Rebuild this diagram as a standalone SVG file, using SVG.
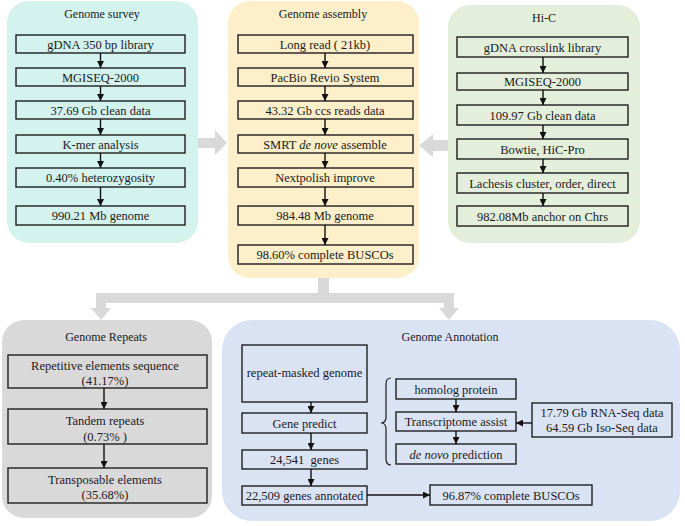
<svg xmlns="http://www.w3.org/2000/svg" width="685" height="526" viewBox="0 0 685 526">
<defs>
<marker id="ah" viewBox="0 0 10 10" refX="10" refY="5" markerWidth="7" markerHeight="7" markerUnits="userSpaceOnUse" orient="auto">
<path d="M0,0 L10,5 L0,10 Z" fill="#111"/>
</marker>
<style>
text{font-family:"Liberation Serif","Times New Roman",serif;font-size:12.5px;fill:#1a1a1a;text-anchor:middle}
.t{font-size:12px}
.b{fill:none;stroke:#1e1e1e;stroke-width:1.4}
.c line,.c path.l{stroke:#111;stroke-width:1.4;fill:none;marker-end:url(#ah)}
.g{fill:#d9d9d9}
.i{font-style:italic}
</style>
</defs>
<rect width="685" height="526" fill="#ffffff"/>

<g id="panel-survey">
<rect x="7" y="1" width="191" height="242" rx="22" fill="#d4f2ee"/>
<text class="t" x="102" y="18">Genome survey</text>
</g>
<g id="panel-assembly">
<rect x="228" y="1" width="191" height="277" rx="22" fill="#fdefc9"/>
<text class="t" x="323" y="18">Genome assembly</text>
</g>
<g id="panel-hic">
<rect x="448" y="5" width="192" height="238" rx="22" fill="#e3efda"/>
<text class="t" x="544" y="22">Hi-C</text>
</g>
<g id="panel-repeats">
<rect x="2" y="320" width="210" height="198" rx="22" fill="#d9d9d9"/>
<text class="t" x="106" y="341">Genome Repeats</text>
</g>
<g id="panel-annotation">
<rect x="222" y="320" width="458" height="201" rx="30" fill="#dae3f3"/>
<text class="t" x="450" y="341">Genome Annotation</text>
</g>

<g id="gray-arrows">
<path class="g" d="M198,138 H215 V130 L227,143 L215,155 V148 H198 Z"/>
<path class="g" d="M448,140 H433 V134 L419,145.5 L433,157 V151 H448 Z"/>
<path class="g" d="M318,278 H329 V293 H454 V308 H459 L449,320 L439,308 H444 V303 H106 V308 H111 L101,320 L91,308 H96 V293 H318 Z"/>
</g>

<!-- Genome survey nodes -->
<g id="s1"><rect class="b" x="16" y="35" width="169" height="18"/><text x="100.5" y="48.5">gDNA 350 bp library</text></g>
<g id="s2"><rect class="b" x="16" y="68" width="169" height="18"/><text x="100.5" y="81.5">MGISEQ-2000</text></g>
<g id="s3"><rect class="b" x="16" y="101" width="169" height="18"/><text x="100.5" y="114.5">37.69 Gb clean data</text></g>
<g id="s4"><rect class="b" x="16" y="135" width="169" height="18"/><text x="100.5" y="148.5">K-mer analysis</text></g>
<g id="s5"><rect class="b" x="16" y="168" width="169" height="19"/><text x="100.5" y="182">0.40% heterozygosity</text></g>
<g id="s6"><rect class="b" x="16" y="206" width="169" height="19"/><text x="100.5" y="220">990.21 Mb genome</text></g>

<!-- Genome assembly nodes -->
<g id="a1"><rect class="b" x="238" y="35" width="175" height="18"/><text x="325" y="48.5">Long read ( 21kb)</text></g>
<g id="a2"><rect class="b" x="238" y="68" width="175" height="18"/><text x="325" y="81.5">PacBio Revio System</text></g>
<g id="a3"><rect class="b" x="238" y="101" width="175" height="18"/><text x="325" y="114.5">43.32 Gb ccs reads data</text></g>
<g id="a4"><rect class="b" x="238" y="135" width="175" height="18"/><text x="325" y="148.5">SMRT <tspan class="i">de nove</tspan> assemble</text></g>
<g id="a5"><rect class="b" x="238" y="168" width="175" height="19"/><text x="325" y="182">Nextpolish improve</text></g>
<g id="a6"><rect class="b" x="238" y="206" width="175" height="19"/><text x="325" y="220">984.48 Mb genome</text></g>
<g id="a7"><rect class="b" x="238" y="245" width="175" height="19"/><text x="325" y="259">98.60% complete BUSCOs</text></g>

<!-- Hi-C nodes -->
<g id="h1"><rect class="b" x="457" y="37" width="171" height="20"/><text x="542.5" y="51.5">gDNA crosslink library</text></g>
<g id="h2"><rect class="b" x="457" y="73" width="171" height="17"/><text x="542.5" y="86">MGISEQ-2000</text></g>
<g id="h3"><rect class="b" x="457" y="105" width="171" height="20"/><text x="542.5" y="119.5">109.97 Gb clean data</text></g>
<g id="h4"><rect class="b" x="457" y="139" width="171" height="20"/><text x="542.5" y="153.5">Bowtie, HiC-Pro</text></g>
<g id="h5"><rect class="b" x="457" y="173" width="171" height="20"/><text x="542.5" y="187.5">Lachesis cluster, order, direct</text></g>
<g id="h6"><rect class="b" x="457" y="206" width="171" height="20"/><text x="542.5" y="220.5">982.08Mb anchor on Chrs</text></g>

<!-- Genome repeats nodes -->
<g id="r1"><rect class="b" x="8" y="355" width="199" height="33"/><text x="105" y="370">Repetitive elements sequence</text><text x="105" y="385">(41.17%)</text></g>
<g id="r2"><rect class="b" x="8" y="409" width="199" height="35"/><text x="105" y="425">Tandem repeats</text><text x="105" y="441" xml:space="preserve">(0.73% )</text></g>
<g id="r3"><rect class="b" x="8" y="468" width="199" height="35"/><text x="105" y="484">Transposable elements</text><text x="105" y="499">(35.68%)</text></g>

<!-- Genome annotation nodes -->
<g id="n1"><rect class="b" x="242" y="345" width="125" height="57"/><text x="304.5" y="377">repeat-masked genome</text></g>
<g id="n2"><rect class="b" x="242" y="413" width="125" height="20"/><text x="304.5" y="427.5">Gene predict</text></g>
<g id="n3"><rect class="b" x="242" y="450" width="125" height="19"/><text x="304.5" y="464" xml:space="preserve">24,541  genes</text></g>
<g id="n4"><rect class="b" x="242" y="486" width="125" height="19"/><text x="304.5" y="500">22,509 genes annotated</text></g>
<g id="n5"><rect class="b" x="396" y="379" width="120" height="20"/><text x="456" y="393.5">homolog protein</text></g>
<g id="n6"><rect class="b" x="396" y="412" width="120" height="19"/><text x="456" y="426">Transcriptome assist</text></g>
<g id="n7"><rect class="b" x="396" y="444" width="120" height="20"/><text x="456" y="458.5"><tspan class="i">de novo</tspan> prediction</text></g>
<g id="n8"><rect class="b" x="532" y="403" width="140" height="34"/><text x="602" y="417">17.79 Gb RNA-Seq data</text><text x="602" y="432">64.59 Gb Iso-Seq data</text></g>
<g id="n9"><rect class="b" x="430" y="485" width="162" height="20"/><text x="511" y="499.5">96.87% complete BUSCOs</text></g>

<g id="connectors" class="c">
<line x1="100.5" y1="53" x2="100.5" y2="68"/>
<line x1="100.5" y1="86" x2="100.5" y2="101"/>
<line x1="100.5" y1="119" x2="100.5" y2="135"/>
<line x1="100.5" y1="153" x2="100.5" y2="168"/>
<line x1="100.5" y1="187" x2="100.5" y2="206"/>

<line x1="325" y1="53" x2="325" y2="68"/>
<line x1="325" y1="86" x2="325" y2="101"/>
<line x1="325" y1="119" x2="325" y2="135"/>
<line x1="325" y1="153" x2="325" y2="168"/>
<line x1="325" y1="187" x2="325" y2="206"/>
<line x1="325" y1="225" x2="325" y2="245"/>

<line x1="543" y1="57" x2="543" y2="73"/>
<line x1="543" y1="90" x2="543" y2="105"/>
<line x1="543" y1="125" x2="543" y2="139"/>
<line x1="543" y1="159" x2="543" y2="173"/>
<line x1="543" y1="193" x2="543" y2="206"/>

<line x1="104" y1="388" x2="104" y2="409"/>
<line x1="104" y1="444" x2="104" y2="468"/>

<line x1="311" y1="402" x2="311" y2="413"/>
<line x1="311" y1="433" x2="311" y2="450"/>
<line x1="311" y1="469" x2="311" y2="486"/>
<line x1="456" y1="399" x2="456" y2="412"/>
<line x1="456" y1="431" x2="456" y2="444"/>
<line x1="532" y1="423" x2="516" y2="423"/>
<line x1="367" y1="495" x2="430" y2="495"/>
<path d="M391,378 Q386,378 386,384 V417 Q386,423 381,423 Q386,423 386,429 V459 Q386,465 391,465" fill="none" stroke="#1e1e1e" stroke-width="1.2"/>
</g>
</svg>
